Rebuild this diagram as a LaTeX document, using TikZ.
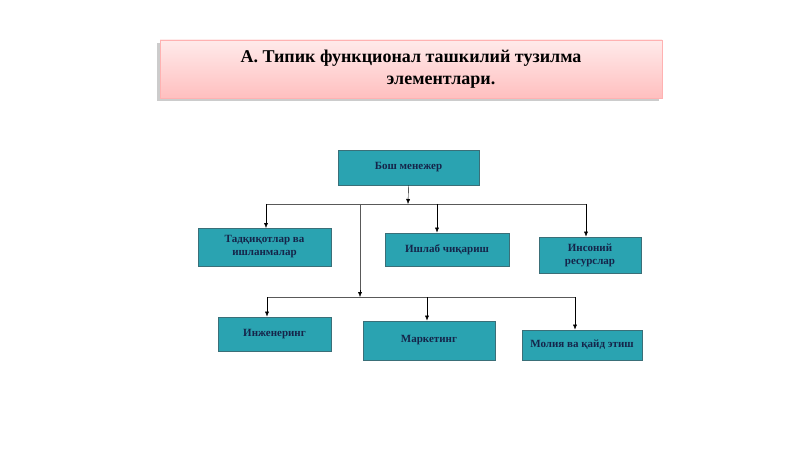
\documentclass[tikz,border=0pt]{standalone}
\usepackage{fontspec}
\setmainfont{Liberation Serif}
\usetikzlibrary{arrows.meta,shadows}
\definecolor{boxteal}{HTML}{2AA3B1}
\definecolor{boxline}{HTML}{3A6F78}
\definecolor{boxtext}{HTML}{15254A}
\tikzset{
  unit/.style={draw=boxline,fill=boxteal,thick,text=boxtext,
    font=\bfseries\fontsize{11}{13}\selectfont,align=center,inner sep=0pt},
  link/.style={gray!70!black,thin},
  down/.style={link,-{Latex[length=5pt,width=4pt]},black}
}
\begin{document}
\begin{tikzpicture}[x=1pt,y=-1pt]
\useasboundingbox (0,0) rectangle (800,449);
% title banner
\node[draw=red!30,fill=red!15,top color=red!8,bottom color=red!25,
  drop shadow={shadow xshift=-3pt,shadow yshift=-3pt,opacity=0.4},
  minimum width=502pt,minimum height=58pt,inner sep=0pt,align=center,
  font=\bfseries\fontsize{18}{22}\selectfont] (title) at (411,69)
  {А. Типик функционал ташкилий тузилма\\ \hspace*{60pt}элементлари.};
% units
\node[unit,minimum width=141pt,minimum height=35pt] (boss) at (408.5,167.5) {Бош менежер};
\node[unit,minimum width=133pt,minimum height=38pt] (rnd) at (264.5,247) {Тадқиқотлар ва\\ишланмалар};
\node[unit,minimum width=124pt,minimum height=33pt] (prod) at (447,249.5) {Ишлаб чиқариш};
\node[unit,minimum width=102pt,minimum height=36pt] (hr) at (590,255) {Инсоний\\ресурслар};
\node[unit,minimum width=113pt,minimum height=34pt] (eng) at (274.5,334) {Инженеринг};
\node[unit,minimum width=132pt,minimum height=39pt] (mkt) at (429,340.5) {Маркетинг};
\node[unit,minimum width=120pt,minimum height=30pt] (fin) at (582,345) {Молия ва қайд этиш};
% junctions
\coordinate (j1) at (408,204);
\coordinate (j2) at (360,204);
\coordinate (j3) at (360,297);
\draw[down] (boss.south) -- (j1);
\draw[link] (266,204) -- (586,204);
\draw[down] (266,204) -- (266,228);
\draw[down] (437,204) -- (prod.north -| 437,0);
\draw[down] (586,204) -- (hr.north -| 586,0);
\draw[link] (j2) -- (360,290);
\draw[down] (360,290) -- (j3);
\draw[link] (267,297) -- (575,297);
\draw[down] (267,297) -- (eng.north -| 267,0);
\draw[down] (427,297) -- (mkt.north -| 427,0);
\draw[down] (575,297) -- (fin.north -| 575,0);
\end{tikzpicture}
\end{document}
